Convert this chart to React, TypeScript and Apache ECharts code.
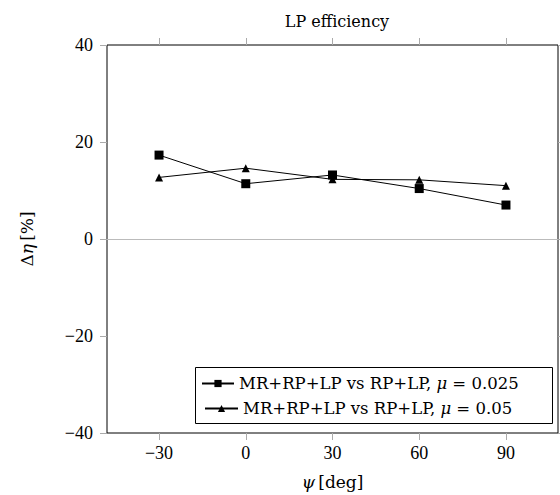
import React, { useEffect, useRef } from "react";
import * as echarts from "echarts";

const psi = [-30, 0, 30, 60, 90];
const mu025 = [17.3, 11.4, 13.2, 10.4, 7.0];
const mu05 = [12.7, 14.6, 12.3, 12.2, 11.0];
const xTicks = [-30, 0, 30, 60, 90];
const yTicks = [-40, -20, 0, 20, 40];
const seriesNames = ["MR+RP+LP vs RP+LP, μ = 0.025", "MR+RP+LP vs RP+LP, μ = 0.05"];

const TICKFONT = "Liberation Serif";
const TEXTFONT = "DejaVu Serif";
const fmt = (v: number) => (v < 0 ? "\u2212" + Math.abs(v) : String(v));

export default function App() {
  const ref = useRef<HTMLDivElement>(null);
  useEffect(() => {
    if (!ref.current) return;
    const chart = echarts.init(ref.current, null, { renderer: "svg" });
    const mkRich = (size: number) => ({
      a: { fontFamily: TEXTFONT, fontSize: size, color: "#000" },
      i: { fontFamily: TEXTFONT, fontSize: size, fontStyle: "italic", color: "#000" },
    });
    const legendFmt = (name: string) => {
      const parts = name.split("μ");
      return `{a|${parts[0]}}{i|μ}{a|${parts[1]}}`;
    };
    const tickStyle = { show: true, inside: false, length: 7, lineStyle: { color: "#aaa", width: 1 } };
    const noLine = { show: false, onZero: false };
    chart.setOption({
      animation: false,
      backgroundColor: "#fff",
      title: {
        text: "LP efficiency",
        left: 332,
        top: 8,
        textAlign: "center",
        textStyle: { fontFamily: TEXTFONT, fontSize: 16, fontWeight: "normal", color: "#000" },
      },
      grid: { left: 107, right: 2, top: 45, bottom: 60, show: true, borderColor: "#000", borderWidth: 1, backgroundColor: "transparent" },
      xAxis: [
        {
          type: "value",
          min: -48,
          max: 108,
          position: "bottom",
          axisLine: noLine,
          splitLine: { show: false },
          axisTick: { ...tickStyle, customValues: xTicks },
          axisLabel: { customValues: xTicks, formatter: fmt, fontFamily: TICKFONT, fontSize: 18, color: "#000", margin: 11 },
          name: "{i|ψ} {a|[deg]}",
          nameLocation: "middle",
          nameGap: 40,
          nameTextStyle: { rich: mkRich(17) },
        },
        {
          type: "value",
          min: -48,
          max: 108,
          position: "top",
          axisLine: noLine,
          splitLine: { show: false },
          axisTick: { ...tickStyle, customValues: xTicks },
          axisLabel: { show: false, customValues: xTicks },
        },
      ],
      yAxis: [
        {
          type: "value",
          min: -40,
          max: 40,
          interval: 20,
          position: "left",
          axisLine: noLine,
          splitLine: { show: false },
          axisTick: tickStyle,
          axisLabel: { formatter: fmt, fontFamily: TICKFONT, fontSize: 18, color: "#000", margin: 14 },
          name: "{a|Δ}{i|η} {a|[%]}",
          nameLocation: "middle",
          nameGap: 72,
          nameRotate: 90,
          nameTextStyle: { rich: mkRich(17) },
        },
        {
          type: "value",
          min: -40,
          max: 40,
          interval: 20,
          position: "right",
          axisLine: noLine,
          splitLine: { show: false },
          axisTick: tickStyle,
          axisLabel: { show: false },
        },
      ],
      legend: [
        {
          data: [seriesNames[0]],
          left: 201,
          top: 375,
          itemWidth: 32,
          itemHeight: 9,
          itemGap: 4,
          padding: 0,
          formatter: legendFmt,
          textStyle: { rich: mkRich(16.5) },
        },
        {
          data: [seriesNames[1]],
          left: 204,
          top: 400,
          itemWidth: 33,
          itemHeight: 9,
          itemGap: 4,
          padding: 0,
          formatter: legendFmt,
          textStyle: { rich: mkRich(16.5) },
        },
      ],
      graphic: [
        {
          type: "rect",
          shape: { x: 195.5, y: 367.5, width: 357, height: 56 },
          style: { fill: "#fff", stroke: "#000", lineWidth: 1 },
          z: 0,
        },
      ],
      series: [
        {
          name: seriesNames[0],
          type: "line",
          data: psi.map((x, i) => [x, mu025[i]]),
          symbol: "rect",
          symbolSize: 9,
          lineStyle: { color: "#000", width: 1 },
          itemStyle: { color: "#000" },
          z: 3,
          markLine: {
            silent: true,
            symbol: "none",
            label: { show: false },
            lineStyle: { color: "#bbb", type: "solid", width: 1 },
            data: [{ yAxis: 0 }],
            z: 1,
          },
        },
        {
          name: seriesNames[1],
          type: "line",
          data: psi.map((x, i) => [x, mu05[i]]),
          symbol: "triangle",
          symbolSize: 8,
          lineStyle: { color: "#000", width: 1 },
          itemStyle: { color: "#000" },
          z: 3,
        },
      ],
    });
    return () => chart.dispose();
  }, []);
  return <div ref={ref} style={{ width: 560, height: 495, position: "absolute", left: 0, top: 0 }} />;
}
